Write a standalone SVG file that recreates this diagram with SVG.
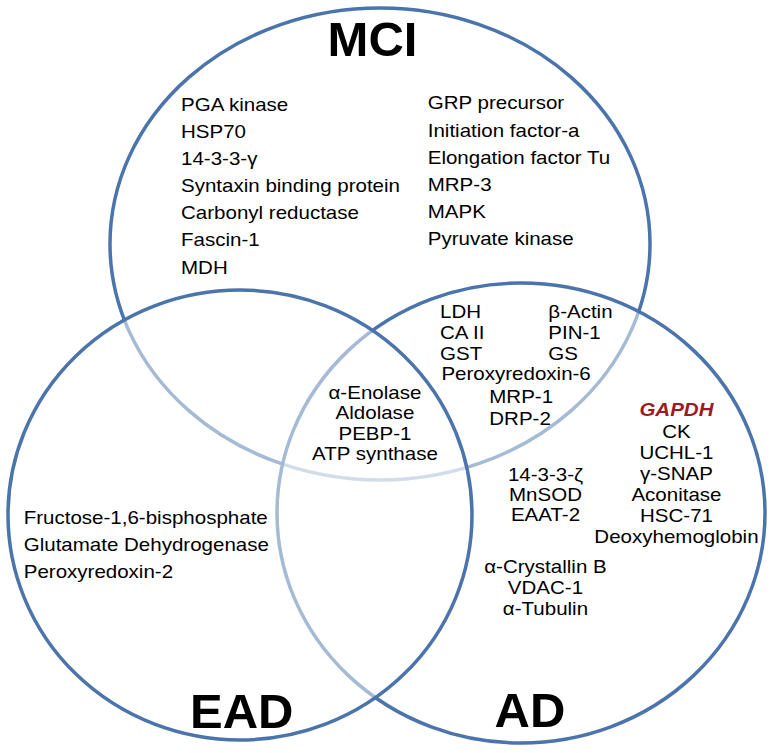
<svg xmlns="http://www.w3.org/2000/svg" width="774" height="753" viewBox="0 0 774 753">
<style>
.set{fill:#ffffff;fill-opacity:0.5;stroke:#4A74AB;stroke-width:3.5}
.t{font-family:"Liberation Sans",Arial,sans-serif;font-size:18px;fill:#000000}
.m{text-anchor:middle}
.title{font-family:"Liberation Sans",Arial,sans-serif;font-size:49px;font-weight:bold;fill:#000000;text-anchor:middle}
.red{fill:#9B1B1E;font-weight:bold;font-style:italic}
</style>
<rect width="774" height="753" fill="#ffffff"/>
<g id="circles">
<ellipse id="MCI-set" class="set" cx="380" cy="244" rx="270" ry="236"/>
<ellipse id="AD-set" class="set" cx="521" cy="513" rx="244" ry="230"/>
<ellipse id="EAD-set" class="set" cx="240" cy="515" rx="232" ry="225"/>
</g>
<g id="titles">
<text class="title" x="372.5" y="56">MCI</text>
<text class="title" x="241.7" y="728">EAD</text>
<text class="title" x="530" y="727">AD</text>
</g>
<g transform="scale(1.14,1)">
<g id="MCI-only-left" class="t">
<text x="158.8" y="111">PGA kinase</text>
<text x="158.8" y="138.1">HSP70</text>
<text x="158.8" y="165.2">14-3-3-γ</text>
<text x="158.8" y="192.3">Syntaxin binding protein</text>
<text x="158.8" y="219.4">Carbonyl reductase</text>
<text x="158.8" y="246.5">Fascin-1</text>
<text x="158.8" y="273.6">MDH</text>
</g>
<g id="MCI-only-right" class="t">
<text x="375.2" y="109.5">GRP precursor</text>
<text x="375.2" y="136.6">Initiation factor-a</text>
<text x="375.2" y="163.7">Elongation factor Tu</text>
<text x="375.2" y="190.8">MRP-3</text>
<text x="375.2" y="217.9">MAPK</text>
<text x="375.2" y="245">Pyruvate kinase</text>
</g>
<g id="EAD-only" class="t">
<text x="20.8" y="524">Fructose-1,6-bisphosphate</text>
<text x="20.8" y="551.5">Glutamate Dehydrogenase</text>
<text x="20.8" y="578">Peroxyredoxin-2</text>
</g>
<g id="MCI-AD" class="t">
<text x="386" y="318.3">LDH</text>
<text x="386" y="339.3">CA II</text>
<text x="386" y="360">GST</text>
<text x="387.2" y="380.5">Peroxyredoxin-6</text>
<text x="429.2" y="403.5">MRP-1</text>
<text x="429.2" y="425">DRP-2</text>
<text x="481" y="318.3">β-Actin</text>
<text x="481" y="339.3">PIN-1</text>
<text x="481" y="360">GS</text>
</g>
<g id="MCI-EAD-AD" class="t m">
<text x="328.9" y="399">α-Enolase</text>
<text x="328.9" y="419.5">Aldolase</text>
<text x="328.9" y="440">PEBP-1</text>
<text x="328.9" y="460">ATP synthase</text>
</g>
<g id="AD-only-middle" class="t m">
<text x="478.5" y="480.7">14-3-3-ζ</text>
<text x="478.5" y="501">MnSOD</text>
<text x="478.5" y="521">EAAT-2</text>
<text x="478.5" y="573.3">α-Crystallin B</text>
<text x="478.5" y="594.3">VDAC-1</text>
<text x="478.5" y="615">α-Tubulin</text>
</g>
<g id="AD-only-right" class="t m">
<text class="red" x="593.4" y="416.5">GAPDH</text>
<text x="593.4" y="438">CK</text>
<text x="593.4" y="459.3">UCHL-1</text>
<text x="593.4" y="480.5">γ-SNAP</text>
<text x="593.4" y="501.5">Aconitase</text>
<text x="593.4" y="522.5">HSC-71</text>
<text x="593.4" y="543.5">Deoxyhemoglobin</text>
</g>
</g>
</svg>
